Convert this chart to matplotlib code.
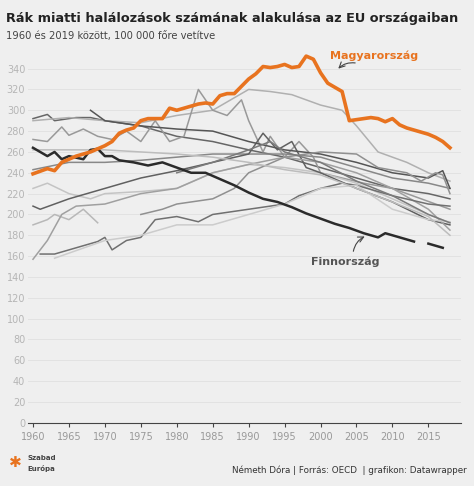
import matplotlib
matplotlib.use("Agg")
import matplotlib.pyplot as plt
import numpy as np

hu_years = [1960,1962,1963,1964,1966,1968,1970,1971,1972,1973,1974,1975,1976,1977,1978,1979,1980,1981,1982,1983,1984,1985,1986,1987,1988,1989,1990,1991,1992,1993,1994,1995,1996,1997,1998,1999,2000,2001,2002,2003,2004,2005,2006,2007,2008,2009,2010,2011,2012,2013,2014,2015,2016,2017,2018]
hu_vals = [239,244,242,250,256,260,266,270,278,281,283,290,292,292,292,302,300,302,304,306,307,306,314,316,316,323,330,335,342,341,342,344,341,342,352,349,336,326,322,318,290,291,292,293,292,289,292,286,283,281,279,277,274,270,264]

fi_years = [1960,1962,1963,1964,1965,1967,1968,1969,1970,1971,1972,1974,1976,1978,1980,1982,1984,1986,1988,1990,1992,1994,1996,1998,2000,2002,2004,2006,2008,2009,2010,2012,2013,2014,2015,2017]
fi_vals = [264,256,260,253,256,253,262,263,256,256,252,250,247,250,245,240,240,234,228,221,215,212,207,201,196,191,187,182,178,182,180,176,174,np.nan,172,168]

gray_series = [
 ([1960,1962,1963,1966,1968,1970,1975,1980,1985,1990,1995,2000,2005,2010,2015,2018],[292,296,290,293,293,290,285,275,270,262,255,245,235,225,220,215],'#666666'),
 ([1960,1965,1970,1975,1980,1985,1990,1993,1996,2000,2003,2005,2008,2012,2015,2018],[290,293,290,288,295,300,320,318,315,305,300,285,260,250,240,232],'#b0b0b0'),
 ([1960,1962,1964,1965,1967,1969,1971,1973,1975,1977,1979,1981,1983,1985,1987,1989,1990,1992,1993,1995,1997,1999,2000,2003,2006,2010,2014,2018],[272,270,284,276,282,275,272,280,270,290,270,275,320,300,295,310,290,260,275,255,270,255,240,235,230,225,215,205],'#999999'),
 ([1960,1965,1970,1975,1980,1985,1990,1995,2000,2005,2010,2015,2018],[243,250,250,252,255,258,258,258,255,245,235,230,225],'#888888'),
 ([1960,1962,1965,1968,1970,1975,1980,1985,1990,1995,2000,2005,2010,2015,2018],[225,230,220,215,220,222,225,240,248,245,240,230,215,200,192],'#c4c4c4'),
 ([1960,1961,1965,1970,1975,1980,1985,1990,1992,1994,1996,1998,2000,2005,2010,2015,2018],[208,205,215,225,235,242,250,258,278,262,270,245,240,225,212,195,190],'#606060'),
 ([1960,1962,1963,1965,1967,1969],[190,195,200,195,205,192],'#b8b8b8'),
 ([1960,1962,1964,1966,1970,1975,1980,1985,1990,1995,2000,2005,2010,2015,2018],[157,175,200,208,210,220,225,240,248,255,250,240,225,205,185],'#a0a0a0'),
 ([1961,1963,1965,1967,1969,1970,1971,1973,1975,1977,1980,1983,1985,1990,1995,1997,2000,2003,2005,2010,2015,2018],[162,162,166,170,174,178,166,175,178,195,198,193,200,205,210,218,225,230,228,218,210,208],'#707070'),
 ([1963,1970,1975,1980,1985,1990,1995,2000,2005,2010,2015,2018],[158,175,180,190,190,200,210,225,228,205,195,193],'#cccccc'),
 ([1968,1970,1975,1980,1985,1990,1995,2000,2005,2010,2015,2017,2018],[300,290,285,282,280,270,262,258,250,240,235,242,225],'#555555'),
 ([1975,1978,1980,1985,1988,1990,1995,2000,2005,2008,2012,2014,2016,2017,2018],[200,205,210,215,225,240,255,260,258,245,240,232,240,238,220],'#909090'),
 ([1980,1985,1990,1993,1995,2000,2005,2010,2015,2018],[240,250,262,270,260,250,232,218,200,192],'#7a7a7a'),
 ([1960,1965,1970,1975,1980,1985,1990,1995,2000,2005,2010,2015,2018],[262,262,262,260,258,255,250,243,238,225,212,198,180],'#bdbdbd'),
]

yticks = list(range(0, 341, 20))
xticks = list(range(1960, 2016, 5))

bg = '#efefef'
fig = plt.figure(figsize=(4.74, 4.86), dpi=100, facecolor=bg)
ax = fig.add_axes([0.059, 0.13, 0.913, 0.761], facecolor=bg)
ax.set_xlim(1959.3, 2019.5)
ax.set_ylim(0, 355)
for y in yticks:
    ax.axhline(y, color='#e2e2e2', lw=0.7, zorder=0)
for yrs, vals, c in gray_series:
    ax.plot(yrs, vals, color=c, lw=1.1, zorder=2)
ax.plot(fi_years, fi_vals, color='#2b2b2b', lw=1.8, zorder=3)
ax.plot(hu_years, hu_vals, color='#e8731f', lw=2.6, zorder=4)
for s in ['top', 'right', 'left']:
    ax.spines[s].set_visible(False)
ax.spines['bottom'].set_color('#444444')
ax.set_yticks(yticks)
ax.set_xticks(xticks)
ax.tick_params(axis='y', length=0, labelsize=7, labelcolor='#b5b5b5', pad=2)
ax.tick_params(axis='x', length=3, color='#444444', labelsize=7, labelcolor='#999999')

ax.text(2007.5, 352, 'Magyarország', color='#e8731f', fontsize=8, fontweight='bold', ha='center', va='center', clip_on=False)
ax.annotate('', xy=(2002.2, 338), xytext=(2005.2, 345),
            arrowprops=dict(arrowstyle='->', color='#444444', lw=0.8, connectionstyle='arc3,rad=0.3'))
ax.text(2003.5, 155, 'Finnország', color='#555555', fontsize=8, fontweight='bold', ha='center', va='center')
ax.annotate('', xy=(2006.5, 180), xytext=(2004.5, 162),
            arrowprops=dict(arrowstyle='->', color='#444444', lw=0.8, connectionstyle='arc3,rad=-0.3'))

fig.text(0.013, 0.962, 'Rák miatti halálozások számának alakulása az EU országaiban', fontsize=9.3, fontweight='bold', color='#222222', va='center')
fig.text(0.013, 0.925, '1960 és 2019 között, 100 000 főre vetítve', fontsize=7.2, color='#444444', va='center')
fig.text(0.985, 0.032, 'Németh Dóra | Forrás: OECD  | grafikon: Datawrapper', fontsize=6.3, color='#333333', ha='right', va='center')
fig.text(0.018, 0.048, '✱', fontsize=11, color='#e8731f', va='center', family='DejaVu Sans')
fig.text(0.058, 0.058, 'Szabad', fontsize=5, fontweight='bold', color='#444444', va='center')
fig.text(0.058, 0.036, 'Európa', fontsize=5, fontweight='bold', color='#444444', va='center')

fig.savefig('out.png', dpi=100, facecolor=bg)
